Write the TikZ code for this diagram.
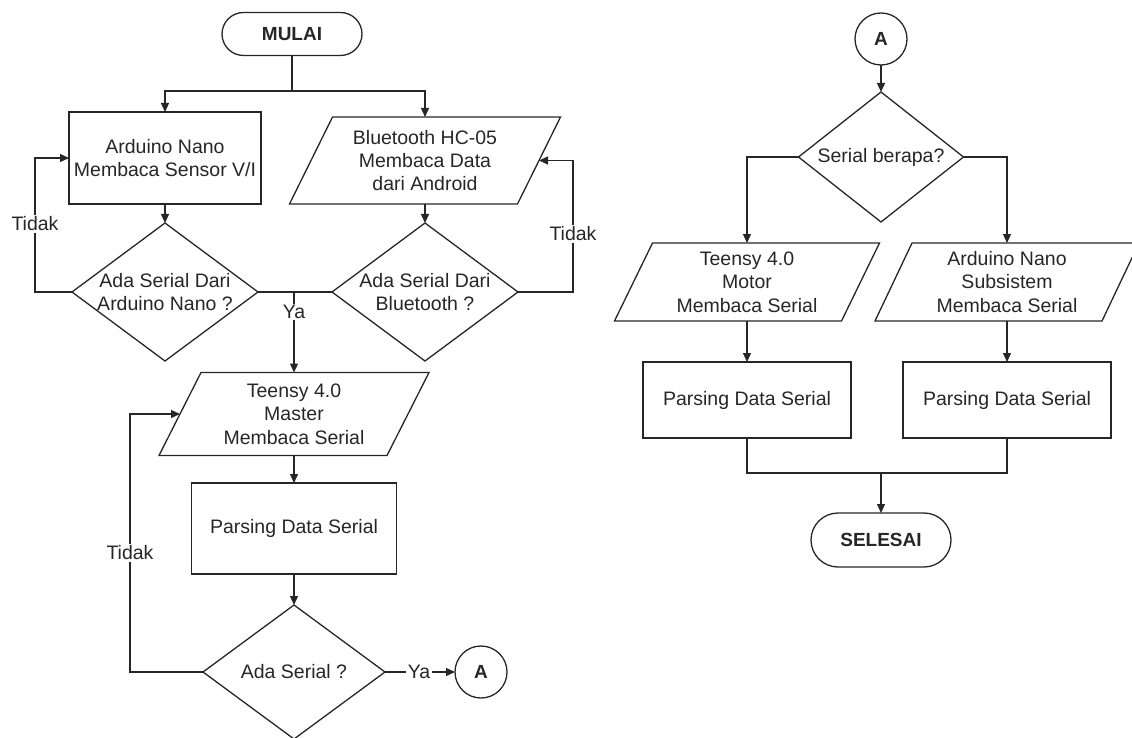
\documentclass[tikz,border=0pt]{standalone}
\usepackage{fontspec}
\setmainfont{Liberation Sans}
\usetikzlibrary{shapes.geometric,arrows.meta}
\newcommand\paral[2]{\draw[ln] ([xshift=#2]#1.north west) -- ([xshift=#2]#1.north east) -- ([xshift=-#2]#1.south east) -- ([xshift=-#2]#1.south west) -- cycle;}
\begin{document}
\begin{tikzpicture}[x=1pt,y=-1pt,
  ln/.style={line width=1.3pt, draw=black!85},
  arr/.style={ln, -{Triangle[length=9pt,width=8pt]}},
  every node/.style={font=\fontsize{19.5pt}{23.3pt}\selectfont, text=black!85},
  proc/.style={draw=black!85, line width=1.3pt, rectangle, inner sep=0pt, outer sep=0pt, align=center},
  io/.style={rectangle, inner sep=0pt, outer sep=0pt, align=center},
  dec/.style={draw=black!85, line width=1.3pt, diamond, inner sep=0pt, outer sep=0pt},
  term/.style={draw=black!85, line width=1.3pt, rectangle, inner sep=0pt, outer sep=0pt, font=\fontsize{19pt}{23pt}\selectfont\bfseries},
  conn/.style={draw=black!85, line width=1.3pt, circle, minimum size=52pt, inner sep=0pt, outer sep=0pt, font=\fontsize{19pt}{23pt}\selectfont\bfseries},
  lbl/.style={fill=white, inner sep=1.5pt}
]
\useasboundingbox (0,0) rectangle (1132,738);

% ---------- left flow ----------
\node[term, minimum width=140pt, minimum height=43pt, rounded corners=21.5pt] (start) at (292,34) {MULAI};
\node[proc, minimum width=192pt, minimum height=92pt] (ard) at (165,158) {Arduino Nano\\Membaca Sensor V/I};
\node[io, minimum width=228pt, minimum height=87pt] (bt) at (425,160.5) {Bluetooth HC-05\\Membaca Data\\dari Android};
\paral{bt}{21.5pt}
\node[dec, minimum width=186pt, minimum height=138pt] (d1) at (165,292) {};
\node[align=center] (d1t) at (d1) {Ada Serial Dari\\Arduino Nano ?};
\node[dec, minimum width=186pt, minimum height=138pt] (d2) at (425,292) {};
\node[align=center] (d2t) at (d2) {Ada Serial Dari\\Bluetooth ?};
\node[io, minimum width=228pt, minimum height=83pt] (tm) at (294,414) {Teensy 4.0\\Master\\Membaca Serial};
\paral{tm}{21pt}
\node[proc, minimum width=205pt, minimum height=91pt] (pm) at (294,528.5) {Parsing Data Serial};
\node[dec, minimum width=182pt, minimum height=134pt] (d3) at (294,672) {};
\node (d3t) at (d3) {Ada Serial ?};
\node[conn] (a1) at (481,672) {A};

% ---------- right flow ----------
\node[conn] (a2) at (881,39) {A};
\node[dec, minimum width=165pt, minimum height=130pt] (d4) at (881,157) {};
\node (d4t) at (d4) {Serial berapa?};
\node[io, minimum width=227pt, minimum height=78pt] (mo) at (747,282) {Teensy 4.0\\Motor\\Membaca Serial};
\paral{mo}{19pt}
\node[io, minimum width=227pt, minimum height=78pt] (sub) at (1007,282) {Arduino Nano\\Subsistem\\Membaca Serial};
\paral{sub}{18.5pt}
\node[proc, minimum width=208pt, minimum height=76pt] (pl) at (747,400) {Parsing Data Serial};
\node[proc, minimum width=208pt, minimum height=76pt] (pr) at (1007,400) {Parsing Data Serial};
\node[term, minimum width=140pt, minimum height=54pt, rounded corners=27pt] (end) at (881,540) {SELESAI};

% ---------- connectors ----------
\coordinate (split) at (292,91);
\coordinate (lx) at (35,0);
\coordinate (rx) at (573,0);
\coordinate (bx) at (130,0);
\coordinate (jn) at (881,473);

\draw[ln] (start.south) -- (split);
\draw[arr] (split) -| (ard.north);
\draw[arr] (split) -| (bt.north);
\draw[arr] (ard.south) -- (d1.north);
\draw[arr] (bt.south) -- (d2.north);
\draw[arr] (d1.west) -- (d1.west -| lx) |- (ard.west);
\draw[arr] (d2.east) -- (d2.east -| rx) |- (bt.east);
\draw[ln] (d1.east) -- (d2.west);
\draw[arr] (d1.east -| tm.north) -- (tm.north);
\draw[arr] (tm.south) -- (pm.north);
\draw[arr] (pm.south) -- (d3.north);
\draw[arr] (d3.west) -- (d3.west -| bx) |- (tm.west);
\draw[arr] (d3.east) -- (a1.west);

\draw[arr] (a2.south) -- (d4.north);
\draw[arr] (d4.west) -| (mo.north);
\draw[arr] (d4.east) -| (sub.north);
\draw[arr] (mo.south) -- (pl.north);
\draw[arr] (sub.south) -- (pr.north);
\draw[ln] (pl.south) |- (jn) -| (pr.south);
\draw[arr] (jn) -- (end.north);

% ---------- labels ----------
\node[lbl] (td1) at (35,224) {Tidak};
\node[lbl] (td2) at (573,234) {Tidak};
\node[lbl] (ya1) at (294,312) {Ya};
\node[lbl] (td3) at (130,553) {Tidak};
\node[lbl] (ya2) at (419,672) {Ya};
\end{tikzpicture}
\end{document}
